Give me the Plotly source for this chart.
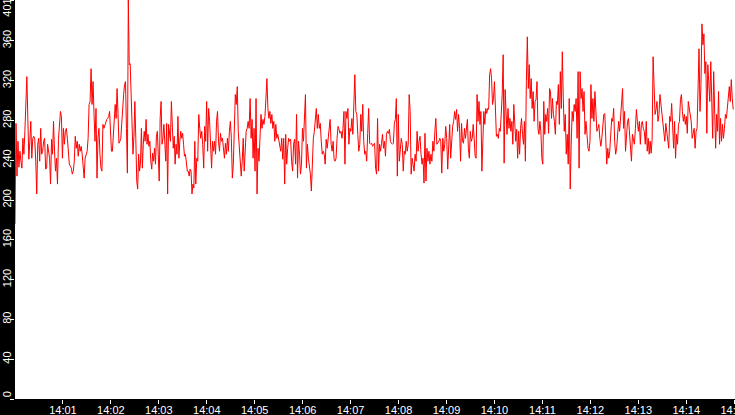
import numpy as np
import pandas as pd
import plotly.graph_objects as go

# readings, split into eight equal stretches of 112.5 s each (14:00:00 -> 14:15:00)
seg1 = [176, 277, 224, 259, 233, 249, 239, 232, 262, 246, 269, 299, 324, 282, 241, 259, 279, 242, 262, 264,
        261, 239, 206, 256, 262, 239, 272, 246, 249, 259, 262, 231, 232, 256, 246, 242, 216, 261, 246, 279,
        249, 229, 242, 216, 261, 280, 289, 284, 242, 272, 256, 269, 272, 262, 252, 236, 234, 232, 226, 229,
        239, 264, 252, 259, 244, 256, 249, 254, 246, 231, 222, 242, 246, 249, 262, 296, 299, 332, 296, 319,
        286, 259, 292, 222, 262, 272, 246, 232, 229, 276, 272]
seg2 = [276, 277, 281, 282, 284, 289, 257, 249, 249, 262, 277, 296, 282, 312, 287, 257, 259, 262, 277, 299,
        306, 316, 319, 272, 227, 401, 336, 337, 312, 289, 246, 264, 299, 262, 219, 211, 246, 229, 237, 272,
        232, 256, 269, 259, 281, 256, 266, 254, 259, 239, 231, 247, 239, 252, 236, 264, 269, 246, 219, 282,
        299, 256, 262, 276, 256, 239, 277, 206, 276, 269, 259, 299, 281, 252, 264, 236, 256, 246, 284, 242,
        259, 269, 262, 267, 256, 244, 246, 234, 229, 229, 224, 231, 229, 206, 216, 212]
seg3 = [259, 216, 242, 239, 286, 272, 262, 269, 256, 232, 274, 259, 299, 249, 292, 279, 252, 232, 259, 249,
        259, 246, 279, 289, 259, 249, 267, 259, 262, 252, 242, 257, 246, 262, 249, 269, 279, 262, 222, 236,
        289, 306, 296, 314, 269, 249, 232, 224, 239, 262, 229, 252, 269, 272, 279, 272, 302, 262, 281, 242,
        272, 229, 302, 206, 252, 239, 259, 286, 272, 281, 276, 284, 302, 322, 292, 282, 289, 277, 286, 272,
        279, 259, 276, 262, 266, 259, 256, 249, 262, 241, 262]
seg4 = [216, 266, 236, 252, 262, 259, 261, 239, 229, 256, 261, 236, 286, 222, 259, 246, 226, 236, 272, 259,
        282, 306, 232, 256, 242, 236, 226, 209, 246, 262, 269, 279, 292, 272, 286, 272, 277, 259, 246, 249,
        246, 236, 261, 252, 262, 272, 281, 256, 249, 259, 241, 239, 242, 262, 274, 271, 267, 269, 262, 272,
        289, 236, 289, 282, 292, 256, 272, 269, 282, 266, 309, 326, 289, 286, 266, 249, 256, 286, 269, 296,
        259, 246, 249, 239, 267, 292, 257, 256, 257, 254, 256]
seg5 = [257, 232, 226, 282, 229, 256, 249, 257, 266, 252, 259, 244, 266, 269, 267, 271, 259, 257, 256, 257,
        277, 281, 302, 224, 286, 239, 252, 262, 256, 229, 249, 246, 259, 249, 256, 306, 289, 226, 242, 236,
        229, 246, 239, 269, 249, 259, 264, 246, 236, 242, 217, 267, 219, 252, 239, 249, 236, 246, 239, 259,
        249, 269, 282, 256, 257, 259, 262, 259, 227, 262, 249, 256, 274, 262, 231, 256, 276, 242, 262, 274,
        279, 289, 281, 291, 269, 286, 272, 239, 277, 259, 257]
seg6 = [272, 262, 272, 281, 252, 242, 269, 259, 262, 276, 262, 244, 242, 306, 279, 299, 276, 289, 229, 259,
        289, 276, 292, 287, 292, 291, 326, 332, 322, 296, 302, 319, 289, 264, 266, 262, 272, 269, 286, 306,
        346, 237, 311, 279, 266, 292, 272, 282, 269, 279, 256, 296, 279, 259, 271, 242, 269, 246, 272, 282,
        266, 256, 279, 239, 319, 364, 312, 336, 302, 322, 292, 309, 279, 299, 301, 319, 272, 266, 279, 269,
        242, 236, 299, 266, 286, 279, 292, 267, 312, 309, 282, 302, 286]
seg7 = [279, 266, 299, 296, 316, 276, 329, 292, 349, 302, 269, 286, 246, 266, 236, 302, 211, 256, 289, 279,
        296, 289, 302, 262, 329, 232, 329, 302, 312, 289, 309, 266, 279, 266, 252, 249, 259, 316, 282, 302,
        279, 309, 292, 269, 272, 276, 262, 254, 262, 276, 286, 287, 249, 236, 252, 242, 249, 269, 282, 279,
        292, 259, 246, 252, 266, 279, 269, 282, 296, 312, 272, 289, 249, 272, 279, 282, 269, 252, 239, 266,
        259, 256, 272, 291, 279, 269, 279, 256, 276, 279, 272]
seg8 = [269, 256, 279, 249, 262, 246, 259, 247, 261, 344, 306, 286, 291, 299, 279, 286, 306, 296, 282, 272,
        266, 259, 277, 269, 266, 252, 284, 279, 297, 266, 252, 279, 242, 266, 256, 276, 279, 301, 306, 289,
        279, 286, 276, 284, 267, 299, 292, 286, 279, 262, 269, 272, 252, 269, 272, 316, 352, 289, 316, 377,
        356, 367, 327, 339, 267, 336, 312, 299, 339, 306, 262, 329, 289, 252, 286, 269, 309, 256, 282, 259,
        276, 262, 272, 286, 282, 296, 306, 314, 299, 321, 302, 291]
segments = [seg1, seg2, seg3, seg4, seg5, seg6, seg7, seg8]

start = pd.Timestamp("2024-01-01 14:00:00")
seg_len = 112.5  # seconds

y_ticks = [0, 40, 80, 120, 160, 200, 240, 280, 320, 360, 401]
x_ticks = pd.date_range("2024-01-01 14:01:00", "2024-01-01 14:15:00", freq="1min")
x_labels = [t.strftime("%H:%M") for t in x_ticks]

times, values = [], []
for i, seg in enumerate(segments):
    secs = i * seg_len + np.linspace(0, seg_len, len(seg), endpoint=False)
    times.extend(start + pd.to_timedelta(secs, unit="s"))
    values.extend(seg)

# end labels are nudged inward with non-breaking spaces (text runs bottom->top)
nb = "\u00a0"
y_labels = [str(v) for v in y_ticks]
y_labels[0] = nb * 2 + y_labels[0]
y_labels[-1] = y_labels[-1] + nb * 6

fig = go.Figure()
fig.add_trace(go.Scatter(x=times, y=values, mode="lines",
                         line=dict(color="#ff0000", width=1), hoverinfo="skip"))

fig.update_layout(
    width=735, height=415,
    margin=dict(l=15, r=0, t=0, b=16),
    paper_bgcolor="black", plot_bgcolor="white",
    showlegend=False,
    font=dict(family="Liberation Sans", color="white"),
)
fig.update_xaxes(
    # one extra second so the 14:15 tick at the right edge is still drawn
    range=[start, start + pd.Timedelta(minutes=15, seconds=1)],
    tickvals=x_ticks, ticktext=x_labels,
    ticks="outside", ticklen=4, tickcolor="white", tickwidth=1,
    ticklabelstandoff=-3, ticklabeloverflow="allow",
    tickfont=dict(size=11, color="white"),
    showgrid=False, zeroline=False, showline=False, automargin=False,
)
fig.update_yaxes(
    range=[0, 401],
    tickvals=y_ticks, ticktext=y_labels,
    tickangle=-90,
    ticks="outside", ticklen=4, tickcolor="white", tickwidth=1,
    ticklabelstandoff=-5, ticklabeloverflow="allow",
    tickfont=dict(size=11, color="white"),
    showgrid=False, zeroline=False, showline=False, automargin=False,
)

# page body has a default 8px margin; drop it so the chart fills the window
fig.write_html("out.html", config={"displayModeBar": False},
               post_script="document.body.style.margin='0';")
